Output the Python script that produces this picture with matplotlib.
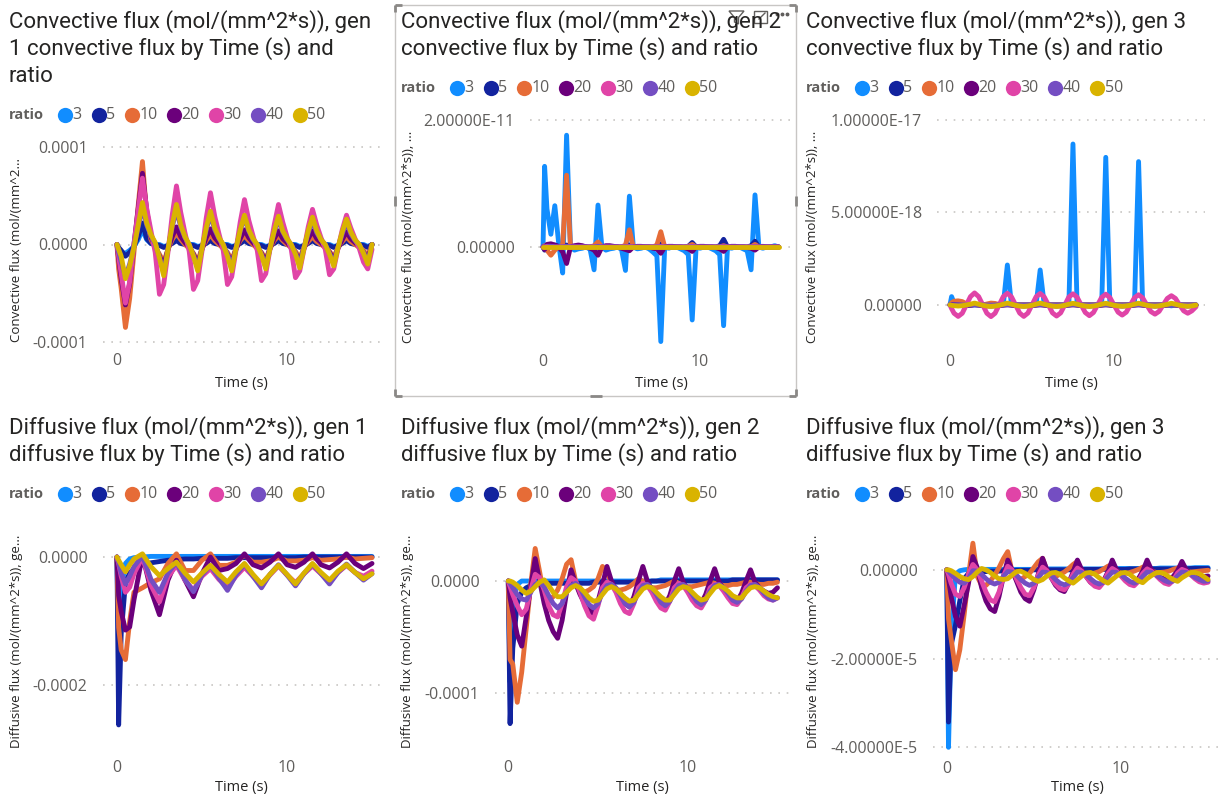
import numpy as np
import matplotlib
matplotlib.use('Agg')
import matplotlib.pyplot as plt
from matplotlib.patches import Rectangle, Polygon

W, H = 1225, 801

ratios = ['3', '5', '10', '20', '30', '40', '50']
colors = ['#118DFF', '#12239E', '#E66C37', '#6B007B', '#E044A7', '#744EC2', '#D9B300']

# time grids (s)
t_coarse = [0, 0.1, 0.25, 0.5, 0.75, 1, 1.5, 2, 2.5, 3, 3.5, 4, 4.5, 5, 5.5, 6, 6.5,
            7, 7.5, 8, 8.5, 9, 9.5, 10, 10.5, 11, 11.5, 12, 12.5, 13, 13.5, 14, 14.5, 15]
t_fine = [0, 0.1, 0.25, 0.5, 0.75, 1, 1.25, 1.5, 1.75, 2, 2.25, 2.5, 2.75, 3, 3.25,
          3.5, 3.75, 4, 4.25, 4.5, 4.75, 5, 5.25, 5.5, 5.75, 6, 6.25, 6.5, 6.75, 7, 7.25,
          7.5, 7.75, 8, 8.25, 8.5, 8.75, 9, 9.25, 9.5, 9.75, 10, 10.25, 10.5, 10.75, 11,
          11.25, 11.5, 11.75, 12, 12.25, 12.5, 12.75, 13, 13.25, 13.5, 13.75, 14, 14.25,
          14.5, 14.75, 15]

# convective flux gen 1, units of 1e-6 (on t_fine)
conv1_3 = [0, -5, -8, -9, -6, -2, 5,
           15, 5, 1, 0, 0, -2, -1, 3,
           10, 3, 1, 0, 0, -2, -1, 3,
           9, 3, 1, 0, 0, -2, -1, 3,
           9, 3, 1, 0, 0, -2, -1, 3,
           8, 3, 1, 0, 0, -2, -1, 3,
           9, 3, 1, 0, 0, -2, -1, 3,
           8, 3, 1, 0, 0, -2, 0]
conv1_5 = [0, -3, -6, -12, -8, -2, 8,
           22, 6, 1, 0, -1, -3, -1, 1,
           4, 1, 0, 0, -1, -3, -1, 1,
           4, 1, 0, 0, -1, -3, -1, 1,
           4, 1, 0, 0, -1, -3, -1, 1,
           4, 1, 0, 0, -1, -3, -1, 1,
           4, 1, 0, 0, -1, -3, -1, 1,
           4, 1, 0, 0, -1, -3, 0]
conv1_10 = [0, -25, -45, -85, -55, -8, 40,
            85, 30, 5, -3, -10, -18, -5, 5,
            12, 5, 0, -4, -9, -17, -4, 4,
            10, 4, 0, -4, -8, -16, -4, 4,
            9, 4, 0, -4, -8, -15, -4, 4,
            9, 4, 0, -3, -7, -14, -3, 3,
            8, 3, 0, -3, -7, -13, -3, 3,
            8, 3, 0, -3, -6, -12, 0]
conv1_20 = [0, -15, -35, -62, -40, 0, 37,
            73, 35, 8, -3, -12, -22, -5, 8,
            18, 8, 2, -3, -10, -20, -5, 7,
            16, 7, 2, -3, -10, -19, -5, 6,
            15, 7, 2, -3, -9, -18, -4, 6,
            14, 6, 2, -3, -9, -17, -4, 6,
            14, 6, 2, -3, -8, -16, -4, 5,
            13, 6, 2, -2, -8, -15, 0]
conv1_30 = [0, -12, -30, -60, -38, 0, 35,
            68, 37, 14, -8, -51, -41, -8, 30,
            60, 33, 12, -7, -46, -37, -7, 27,
            53, 29, 11, -6, -41, -33, -6, 23,
            46, 25, 9, -6, -37, -30, -5, 20,
            41, 23, 8, -5, -34, -27, -5, 18,
            36, 20, 7, -5, -31, -25, -4, 15,
            30, 17, 6, -4, -18, -25, -5]
conv1_40 = [0, -8, -18, -33, -20, -2, 18,
            38, 20, 9, 1, -13, -28, -5, 18,
            36, 18, 7, 0, -11, -24, -4, 15,
            31, 15, 6, 0, -10, -22, -4, 14,
            28, 14, 5, 0, -10, -22, -4, 13,
            26, 13, 5, 0, -9, -20, -3, 12,
            25, 12, 5, 0, -9, -19, -3, 11,
            23, 11, 4, 0, -8, -18, 0]
conv1_50 = [0, -5, -12, -35, -22, -3, 20,
            43, 22, 10, 2, -14, -32, -5, 20,
            41, 20, 8, 0, -12, -27, -4, 17,
            34, 17, 7, 0, -12, -27, -4, 15,
            30, 15, 6, 0, -11, -25, -4, 14,
            29, 14, 6, 0, -10, -24, -4, 14,
            28, 14, 5, 0, -10, -22, -3, 13,
            26, 13, 5, 0, -9, -20, 0]

# convective flux gen 2, units of 1e-13 (on t_fine)
conv2_3 = [0, 127, 60, 20, 65, 5, -41,
           176, 0, -5, -3, -2, 0, -4, -36,
           66, 0, -5, -3, -2, 0, -4, -37,
           80, 0, -3, -2, 0, -3, -8, -14,
           -149, 0, -2, 0, 0, -3, -6, -12,
           -115, 0, -2, 0, 0, -3, -6, -12,
           -124, 0, -2, 0, 0, -3, -6, -36,
           82, 0, -2, 0, 0, 2, 0]
conv2_5 = [0, -5, -3, 2, 3, 1, 0,
           3, 0, 0, 0, 1, 0, 0, 0,
           2, 0, 0, 0, 0, 0, 0, 0,
           3, 0, 0, 0, 0, 0, 0, 1,
           5, 0, 0, 0, 0, 0, 0, 1,
           7, 0, 0, 0, 0, 0, 0, 2,
           12, 0, 0, 0, 0, 0, 0, 2,
           9, 0, 0, 0, 0, 0, 0]
conv2_10 = [0, 2, -5, -13, -5, 0, 3,
            113, 0, 0, 0, 0, 0, 0, 2,
            8, 0, 0, 0, 0, 0, 0, 3,
            27, 0, 0, 0, 0, 0, 0, 3,
            24, 0, 0, 0, 0, 0, 0, 1,
            4, 0, 0, 0, 0, 0, 0, 0,
            2, 0, 0, 0, 0, 0, 0, 0,
            4, 0, 0, 0, 0, 0, 0]
conv2_20 = [0, -4, 4, 5, 3, 0, -8,
            -26, 0, 2, 3, 2, 0, -2, -5,
            -13, 0, 2, 2, 1, 0, -2, -4,
            -6, 0, 1, 1, 0, 0, -2, -3,
            -10, 0, 1, 1, 0, 0, -1, -3,
            -7, 0, 1, 1, 0, 0, -1, -3,
            -7, 0, 1, 1, 0, 0, -1, -2,
            -5, 0, 1, 0, 0, 0, 0]
conv2_30 = [0, 0, 1, 1, 0, 0, 0,
            1, 0, 0, 0, 0, 0, 0, 0,
            1, 0, 0, 0, 0, 0, 0, 0,
            1, 0, 0, 0, 0, 0, 0, 0,
            1, 0, 0, 0, 0, 0, 0, 0,
            1, 0, 0, 0, 0, 0, 0, 0,
            1, 0, 0, 0, 0, 0, 0, 0,
            1, 0, 0, 0, 0, 0, 0]
conv2_40 = [0, 0, 0, 1, 0, 0, 0,
            1, 0, 0, 0, 0, 0, 0, 0,
            1, 0, 0, 0, 0, 0, 0, 0,
            0, 0, 0, 0, 0, 0, 0, 0,
            0, 0, 0, 0, 0, 0, 0, 0,
            0, 0, 0, 0, 0, 0, 0, 0,
            0, 0, 0, 0, 0, 0, 0, 0,
            0, 0, 0, 0, 0, 0, 0]
conv2_50 = [0, 0, 0, 0, 0, 0, 0,
            0, 0, 0, 0, 0, 0, 0, 0,
            0, 0, 0, 0, 0, 0, 0, 0,
            0, 0, 0, 0, 0, 0, 0, 0,
            0, 0, 0, 0, 0, 0, 0, 0,
            0, 0, 0, 0, 0, 0, 0, 0,
            0, 0, 0, 0, 0, 0, 0, 0,
            0, 0, 0, 0, 0, 0, 0]

# convective flux gen 3, units of 1e-20 (on t_fine)
conv3_3 = [0, 45, 10, 0, 0, 0, 0,
           0, 0, 0, 0, 0, 0, 0, 0,
           216, 0, 0, 0, 0, 0, 0, 0,
           189, 0, 0, 0, 0, 0, 0, 0,
           870, 0, 0, 0, 0, 0, 0, 0,
           798, 0, 0, 0, 0, 0, 0, 0,
           775, 0, 0, 0, 0, 0, 0, 0,
           -5, 0, 0, 0, 0, 0, 0]
conv3_5 = [0, 5, 3, 0, 0, 0, 0,
           1, 0, 0, 0, 0, 0, 0, 0,
           1, 0, 0, 0, 0, 0, 0, 0,
           1, 0, 0, 0, 0, 0, 0, 0,
           1, 0, 0, 0, 0, 0, 0, 0,
           1, 0, 0, 0, 0, 0, 0, 0,
           1, 0, 0, 0, 0, 0, 0, 0,
           1, 0, 0, 0, 0, 0, 0]
conv3_10 = [0, 12, 20, 22, 18, 6, 0,
            2, 0, 0, 5, 10, 8, 2, 0,
            1, 0, 0, 0, 0, 0, 0, 0,
            1, 0, 0, 0, 0, 0, 0, 0,
            1, 0, 0, 0, 0, 0, 0, 0,
            1, 0, 0, 0, 0, 0, 0, 0,
            1, 0, 0, 0, 0, 0, 0, 0,
            1, 0, 0, 0, 0, 0, 0]
conv3_20 = [0, 2, 3, 0, -3, -3, -2,
            3, 0, -3, -5, -6, -5, -3, 0,
            3, 0, -3, -5, -6, -5, -3, 0,
            3, 0, -3, -5, -6, -5, -3, 0,
            3, 0, -3, -5, -6, -5, -3, 0,
            3, 0, -3, -5, -6, -5, -3, 0,
            3, 0, -3, -5, -6, -5, -3, 0,
            3, 0, -3, -5, -6, -5, -2]
conv3_30 = [0, -20, -45, -62, -45, 0, 45,
            65, 45, 0, -45, -63, -45, 0, 45,
            63, 44, 0, -44, -62, -44, 0, 44,
            62, 43, 0, -43, -60, -43, 0, 43,
            60, 42, 0, -41, -58, -41, 0, 41,
            58, 40, 0, -39, -55, -39, 0, 39,
            55, 38, 0, -36, -50, -35, 0, 35,
            50, 35, 0, -32, -45, -32, -10]
conv3_40 = [0, 0, 1, 1, 0, 0, 0,
            1, 0, 0, 0, -1, 0, 0, 0,
            1, 0, 0, 0, -1, 0, 0, 0,
            1, 0, 0, 0, -1, 0, 0, 0,
            1, 0, 0, 0, -1, 0, 0, 0,
            1, 0, 0, 0, -1, 0, 0, 0,
            1, 0, 0, 0, -1, 0, 0, 0,
            1, 0, 0, 0, -1, 0, 0]
conv3_50 = [0, -2, -4, -6, -4, 0, 4,
            10, 4, -2, -6, -8, -6, -2, 4,
            10, 4, -2, -6, -8, -6, -2, 4,
            10, 4, -2, -6, -8, -6, -2, 4,
            9, 4, -2, -6, -8, -6, -2, 4,
            9, 4, -2, -5, -7, -5, -2, 4,
            9, 4, -2, -5, -7, -5, -1, 3,
            9, 4, -2, -5, -7, -5, -1]

# diffusive flux gen 1, units of 1e-6 (on t_coarse)
diff1_3 = [0, -150, -50, -10, -3, -1, 0,
           1, 1, 1, 1, 1, 1, 1, 1, 1, 1, 1, 1, 1, 1, 1, 1,
           1, 1, 1, 1, 1, 1, 1, 1, 1, 1, 1]
diff1_5 = [0, -262, -120, -40, -25, -18, -12,
           -9, -7, -5, -4, -3, -3, -2, -2, -2, -2, -1, -1, -1, -1, -1, -1,
           -1, -1, 0, 0, 0, 0, 0, 0, 0, 0, 0]
diff1_10 = [0, -110, -145, -160, -100, -55, -48,
            -40, -34, -10, 5, -21, -21, -5, 5, -13, -13, -8, 3, -8, -8, -6, -1,
            -6, -6, -5, -1, -5, -4, -3, 0, -3, -2, -1]
diff1_20 = [0, -60, -85, -114, -109, -67, 3,
            -52, -90, -36, -5, -36, -62, -26, 0, -21, -18, -10, 5, -12, -17, -8, 5,
            -12, -16, -8, 5, -12, -17, -8, 5, -10, -18, -10]
diff1_30 = [0, -10, -30, -55, -47, -26, 0,
            -44, -70, -31, -13, -36, -52, -30, -18, -35, -47, -30, -16, -30, -42, -28, -14,
            -28, -40, -26, -14, -26, -38, -24, -13, -24, -30, -22]
diff1_40 = [0, -8, -25, -42, -30, -15, 2,
            -35, -55, -25, -8, -35, -54, -28, -13, -33, -52, -28, -11, -30, -48, -27, -12,
            -28, -45, -26, -11, -26, -42, -24, -11, -24, -36, -26]
diff1_50 = [0, -5, -12, -23, -12, -3, 5,
            -15, -29, -18, -8, -25, -39, -25, -13, -27, -39, -23, -10, -27, -42, -27, -13,
            -27, -42, -25, -10, -24, -36, -22, -12, -24, -34, -26]

# diffusive flux gen 2, units of 1e-6 (on t_fine)
diff2_3 = [0, -90, -20, -3, 0, 0, 0,
           0, 0, 0, 0, 0, 0, 0, 0,
           0, 0, 0, 0, 0, 0, 0, 0,
           0, 0, 0, 0, 0, 0, 0, 0,
           0, 0, 0, 0, 1, 1, 1, 1,
           1, 1, 1, 1, 1, 1, 1, 1,
           1, 1, 1, 1, 1, 1, 1, 1,
           1, 1, 1, 1, 1, 1, 1]
diff2_5 = [0, -127, -60, -20, -10, -6, -4,
           -3, -3, -3, -2, -2, -2, -2, -2,
           -2, -2, -2, -2, -2, -1, -1, -1,
           -1, -1, -1, -1, -1, -1, -1, -1,
           -1, -1, 0, 0, 0, 0, 0, 0,
           0, 0, 0, 0, 0, 0, 0, 0,
           0, 0, 0, 0, 1, 1, 1, 1,
           1, 1, 1, 1, 1, 1, 1]
diff2_10 = [0, -70, -74, -108, -81, -42, -3,
            29, 8, -14, -17, -14, -8, 2, 15,
            19, 0, -11, -10, -8, -5, 2, 13,
            8, -2, -8, -8, -7, -5, -2, 2,
            0, -4, -6, -6, -5, -4, -2, 0,
            -2, -4, -5, -5, -4, -3, -2, -1,
            -2, -3, -4, -4, -3, -3, -2, -1,
            -1, -2, -3, -3, -2, -2, -1]
diff2_20 = [0, -15, -28, -48, -58, -32, -5,
            20, 0, -20, -35, -45, -51, -35, -10,
            10, -2, -12, -20, -26, -29, -18, -3,
            13, 0, -8, -14, -20, -23, -14, 0,
            13, 0, -8, -13, -18, -21, -13, 0,
            11, -1, -8, -12, -17, -20, -12, 0,
            11, -1, -7, -11, -16, -18, -11, 0,
            10, -1, -6, -9, -11, -10, -6]
diff2_30 = [0, -5, -12, -22, -30, -25, -8,
            6, 3, -8, -22, -30, -32, -20, -5,
            3, 0, -10, -22, -31, -34, -22, -6,
            -1, -3, -10, -20, -27, -29, -20, -6,
            -2, -4, -10, -18, -24, -26, -18, -6,
            -2, -4, -10, -17, -22, -24, -17, -6,
            -3, -4, -9, -15, -20, -21, -15, -6,
            -3, -4, -8, -13, -16, -17, -15]
diff2_40 = [0, -2, -6, -12, -16, -17, -10,
            -3, -1, -5, -13, -20, -24, -20, -10,
            -4, -2, -6, -14, -21, -24, -20, -10,
            -4, -3, -6, -13, -20, -23, -19, -10,
            -4, -3, -6, -12, -19, -22, -18, -10,
            -4, -3, -6, -12, -18, -21, -17, -9,
            -4, -3, -6, -11, -17, -19, -16, -9,
            -4, -3, -6, -11, -15, -17, -15]
diff2_50 = [0, 0, -1, -4, -8, -11, -9,
            -5, -1, 1, -4, -10, -14, -14, -10,
            -6, -4, -6, -10, -15, -18, -17, -12,
            -7, -5, -7, -11, -15, -18, -17, -12,
            -7, -5, -6, -10, -14, -17, -17, -12,
            -7, -5, -6, -10, -14, -17, -16, -11,
            -6, -4, -6, -9, -13, -15, -15, -10,
            -6, -5, -6, -9, -12, -14, -15]

# diffusive flux gen 3, units of 1e-7 (on t_fine)
diff3_3 = [0, -400, -150, -10, -2, 0, 1,
           1, 1, 1, 1, 1, 1, 1, 1,
           1, 1, 1, 1, 1, 1, 1, 1,
           2, 2, 2, 2, 2, 2, 2, 2,
           2, 2, 2, 2, 2, 2, 3, 3,
           3, 3, 3, 3, 3, 3, 3, 3,
           3, 3, 3, 4, 4, 4, 4, 4,
           4, 4, 4, 5, 5, 5, 5]
diff3_5 = [0, -343, -170, -125, -70, -20, -8,
           -6, -5, -4, -4, -3, -3, -3, -2,
           -2, -2, -1, -1, -1, -1, 0, 0,
           0, 0, 0, 0, 0, 0, 0, 0,
           1, 1, 1, 1, 1, 1, 1, 1,
           1, 1, 1, 1, 2, 2, 2, 2,
           2, 2, 2, 2, 2, 2, 2, 2,
           2, 2, 3, 3, 3, 3, 3]
diff3_10 = [0, -110, -155, -225, -180, -100, -13,
            60, -15, -35, -35, -25, -12, 5, 25,
            41, -5, -22, -22, -15, -8, 5, 18,
            26, -3, -15, -15, -10, -5, 3, 12,
            19, -3, -10, -10, -7, -4, 2, 8,
            12, -2, -8, -8, -6, -3, 1, 6,
            8, -2, -6, -6, -5, -3, 1, 4,
            6, -2, -5, -4, -3, -2, -1]
diff3_20 = [0, -20, -60, -105, -127, -80, -30,
            30, 5, -40, -70, -88, -94, -60, -15,
            22, 0, -25, -50, -65, -71, -45, -10,
            26, 0, -18, -35, -45, -49, -30, -5,
            22, 0, -15, -28, -35, -37, -25, -5,
            22, 0, -12, -22, -28, -30, -20, -3,
            22, 0, -10, -17, -21, -22, -15, -2,
            19, 0, -8, -12, -15, -15, -14]
diff3_30 = [0, -10, -30, -55, -60, -40, -10,
            12, 0, -25, -50, -68, -72, -50, -15,
            8, 0, -20, -40, -55, -58, -40, -12,
            6, -2, -18, -32, -42, -45, -32, -10,
            4, -3, -15, -28, -37, -40, -28, -8,
            3, -3, -14, -25, -33, -36, -26, -8,
            2, -3, -12, -22, -30, -33, -24, -7,
            1, -3, -11, -20, -27, -30, -28]
diff3_40 = [0, -3, -10, -20, -28, -30, -20,
            -2, -3, -10, -20, -28, -32, -28, -15,
            -4, -5, -12, -22, -30, -35, -30, -18,
            -5, -6, -12, -22, -30, -34, -30, -18,
            -5, -6, -12, -20, -28, -32, -28, -16,
            -5, -6, -11, -19, -26, -30, -26, -15,
            -5, -6, -11, -18, -24, -28, -25, -14,
            -5, -6, -10, -17, -22, -26, -25]
diff3_50 = [0, 0, -2, -8, -15, -20, -22,
            -15, -5, 3, 0, -6, -14, -20, -22,
            -20, -12, -4, -3, -8, -15, -22, -26,
            -22, -14, -7, -6, -10, -18, -25, -30,
            -22, -14, -7, -6, -10, -18, -25, -30,
            -22, -14, -7, -6, -10, -18, -25, -29,
            -20, -13, -7, -6, -9, -16, -22, -26,
            -18, -12, -6, -6, -9, -15, -22]

TITLE_C = '#252423'
GREY = '#605E5C'
plt.rcParams['font.family'] = ['Open Sans', 'DejaVu Sans']

panels = [
    dict(t=t_fine, series=[conv1_3, conv1_5, conv1_10, conv1_20, conv1_30, conv1_40, conv1_50],
         scale=1e-6, box=(103, 144, 380, 345), xlim=(-0.82, 15.47), ylim=(-103, 103),
         yticks=[-100, 0, 100], ylabels=['-0.0001', '0.0000', '0.0001'],
         title=['Convective flux (mol/(mm^2*s)), gen', '1 convective flux by Time (s) and', 'ratio'],
         tx=9, ty=28.3, ly=115, ylab='Convective flux (mol/(mm^2...', yx=17, yb=342,
         xpad=6, xly=383),
    dict(t=t_fine, series=[conv2_3, conv2_5, conv2_10, conv2_20, conv2_30, conv2_40, conv2_50],
         scale=1e-13, box=(530, 117, 793, 346), xlim=(-0.83, 15.92), ylim=(-156, 204.7),
         yticks=[0, 200], ylabels=['0.00000', '2.00000E-11'],
         title=['Convective flux (mol/(mm^2*s)), gen 2', 'convective flux by Time (s) and ratio'],
         tx=401, ty=28.3, ly=88.3, ylab='Convective flux (mol/(mm^2*s)), ...', yx=408, yb=343,
         xpad=6, xly=383),
    dict(t=t_fine, series=[conv3_3, conv3_5, conv3_10, conv3_20, conv3_30, conv3_40, conv3_50],
         scale=1e-20, box=(937, 117, 1205, 346), xlim=(-0.79, 15.55), ylim=(-222, 1016),
         yticks=[0, 500, 1000], ylabels=['0.00000', '5.00000E-18', '1.00000E-17'],
         title=['Convective flux (mol/(mm^2*s)), gen 3', 'convective flux by Time (s) and ratio'],
         tx=806, ty=28.3, ly=88.3, ylab='Convective flux (mol/(mm^2*s)), ...', yx=813, yb=343,
         xpad=6, xly=383),
    dict(t=t_coarse, series=[diff1_3, diff1_5, diff1_10, diff1_20, diff1_30, diff1_40, diff1_50],
         scale=1e-6, box=(103, 525, 380, 748), xlim=(-0.82, 15.47), ylim=(-298, 50),
         yticks=[-200, 0], ylabels=['-0.0002', '0.0000'],
         title=['Diffusive flux (mol/(mm^2*s)), gen 1', 'diffusive flux by Time (s) and ratio'],
         tx=9, ty=434.3, ly=494.3, ylab='Diffusive flux (mol/(mm^2*s)), ge...', yx=17, yb=748,
         xpad=9, xly=788),
    dict(t=t_fine, series=[diff2_3, diff2_5, diff2_10, diff2_20, diff2_30, diff2_40, diff2_50],
         scale=1e-6, box=(495, 525, 790, 748), xlim=(-0.74, 15.7), ylim=(-148.7, 49.9),
         yticks=[-100, 0], ylabels=['-0.0001', '0.0000'],
         title=['Diffusive flux (mol/(mm^2*s)), gen 2', 'diffusive flux by Time (s) and ratio'],
         tx=401, ty=434.3, ly=494.3, ylab='Diffusive flux (mol/(mm^2*s)), ge...', yx=408, yb=748,
         xpad=9, xly=788),
    dict(t=t_fine, series=[diff3_3, diff3_5, diff3_10, diff3_20, diff3_30, diff3_40, diff3_50],
         scale=1e-7, box=(933, 525, 1222, 750), xlim=(-0.79, 15.8), ylim=(-406, 101),
         yticks=[-400, -200, 0], ylabels=['-4.00000E-5', '-2.00000E-5', '0.00000'],
         title=['Diffusive flux (mol/(mm^2*s)), gen 3', 'diffusive flux by Time (s) and ratio'],
         tx=806, ty=434.3, ly=494.3, ylab='Diffusive flux (mol/(mm^2*s)), ge...', yx=813, yb=748,
         xpad=8, xly=788),
]

for p in panels:
    for s in p['series']:
        if len(s) != len(p['t']):
            raise ValueError('length mismatch %d vs %d' % (len(s), len(p['t'])))

fig = plt.figure(figsize=(W / 100, H / 100), dpi=100)
fig.patch.set_facecolor('white')

for p in panels:
    x0, y0, x1, y1 = p['box']
    ax = fig.add_axes([x0 / W, 1 - y1 / H, (x1 - x0) / W, (y1 - y0) / H])
    sc = p['scale']
    for vals, c in zip(p['series'], colors):
        ax.plot(p['t'], np.array(vals) * sc, color=c, lw=3.5,
                solid_joinstyle='round', solid_capstyle='round')
    ax.set_xlim(p['xlim'])
    ax.set_ylim(p['ylim'][0] * sc, p['ylim'][1] * sc)
    ax.set_yticks(np.array(p['yticks']) * sc, p['ylabels'])
    ax.set_xticks([0, 10], ['0', '10'])
    for sp in ax.spines.values():
        sp.set_visible(False)
    ax.patch.set_alpha(0)
    ax.tick_params(length=0, labelsize=11.5, labelcolor=GREY)
    ax.tick_params(axis='y', pad=11)
    ax.tick_params(axis='x', pad=p['xpad'])
    ax.yaxis.grid(True, color='#C8C6C4', lw=1.2, linestyle=(0, (1, 4)))
    ax.set_axisbelow(True)

# overlay in pixel coordinates for titles, legends, labels
ov = fig.add_axes([0, 0, 1, 1])
ov.set_xlim(0, W)
ov.set_ylim(H, 0)
ov.axis('off')
ov.patch.set_alpha(0)

for p in panels:
    x0, y0, x1, y1 = p['box']
    for i, line in enumerate(p['title']):
        ov.text(p['tx'], p['ty'] + i * 26.7, line, fontsize=16, family='Roboto',
                color=TITLE_C, va='baseline', ha='left')
    ov.text(p['tx'], p['ly'], 'ratio', fontsize=10.5, fontweight='bold', color=GREY,
            va='center', ha='left')
    cx = p['tx'] + 56
    for lab, c in zip(ratios, colors):
        ov.plot(cx, p['ly'], 'o', ms=11, color=c, mec='none')
        ov.text(cx + 7.5, p['ly'], lab, fontsize=11.5, color=GREY, va='center', ha='left')
        cx += 25 + 8.5 * len(lab)
    ov.text(p['yx'], p['yb'], p['ylab'], rotation=90, fontsize=9.5, color=TITLE_C,
            ha='center', va='bottom')
    ov.text((x0 + x1) / 2, p['xly'], 'Time (s)', fontsize=10.5, color=TITLE_C,
            ha='center', va='center')

# selection frame and header icons around the middle top visual
ov.add_patch(Rectangle((395, 5), 401, 391, fill=False, ec='#C8C6C4', lw=1))
for (xa, ya, xb, yb) in [(395, 196, 395, 206), (796, 196, 796, 206), (590, 396, 602, 396),
                         (395, 5, 395, 12), (395, 5, 402, 5), (796, 5, 796, 12), (789, 5, 796, 5),
                         (395, 389, 395, 396), (395, 396, 402, 396),
                         (796, 389, 796, 396), (789, 396, 796, 396)]:
    ov.plot([xa, xb], [ya, yb], color='#8A8886', lw=2, solid_capstyle='butt')
ov.add_patch(Rectangle((726, 7), 68, 24, fc='white', ec='none', alpha=0.75))
ov.add_patch(Polygon([(729, 11), (744, 11), (738.5, 17.5), (738.5, 24), (734.5, 22), (734.5, 17.5)],
                     closed=True, fill=False, ec=GREY, lw=1))
ov.add_patch(Rectangle((754, 11), 13, 12, fill=False, ec=GREY, lw=1))
ov.plot([759, 765], [19, 13], color=GREY, lw=1)
ov.plot([777, 782, 787], [14, 14, 14], 'o', ms=1.8, color=GREY)

fig.savefig('out.png', dpi=100, facecolor='white')
